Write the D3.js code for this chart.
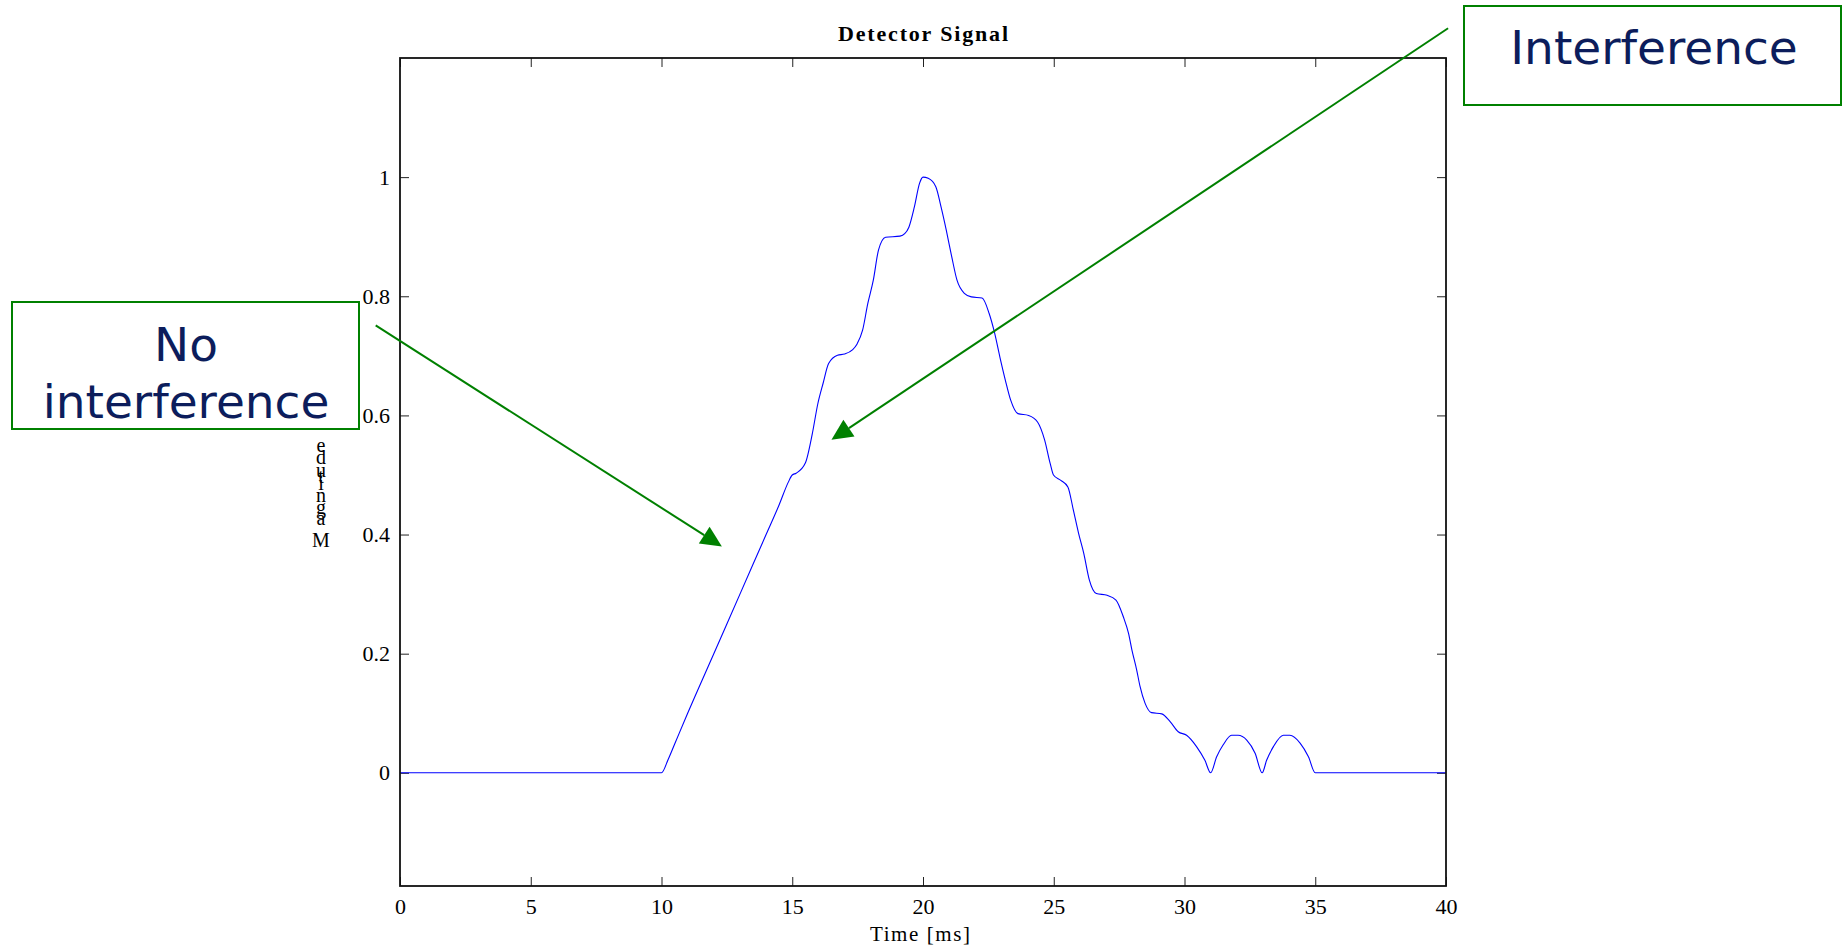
<!DOCTYPE html>
<html><head><meta charset="utf-8">
<script src="https://cdn.jsdelivr.net/npm/d3@7"></script>
<style>body{margin:0;background:#fff;} svg{display:block;background:#fff}</style>
</head><body>
<svg id="chart" width="1843" height="948"></svg>
<script>
// ---- data ----
const timeMs = [0, 10, 10.25, 10.5, 11, 12, 13, 14, 14.5, 14.85, 15, 15.15, 15.5, 15.77, 15.98, 16.18, 16.39, 16.73, 17.0, 17.3, 17.48, 17.69, 17.89, 18.10, 18.30, 18.57, 19.12, 19.3, 19.46, 19.67, 19.87, 20.0, 20.2, 20.49, 20.69, 20.89, 21.10, 21.30, 21.58, 21.85, 22.26, 22.53, 22.74, 22.94, 23.15, 23.35, 23.63, 24.04, 24.38, 24.65, 24.86, 24.99, 25.27, 25.54, 25.75, 25.95, 26.15, 26.36, 26.63, 27.04, 27.38, 27.66, 27.86, 27.99, 28.17, 28.30, 28.49, 28.74, 29.13, 29.45, 29.76, 30.08, 30.46, 30.78, 31.0, 31.23, 31.48, 31.80, 32.05, 32.38, 32.70, 32.97, 33.14, 33.40, 33.78, 34.03, 34.42, 34.74, 35.0, 40];
const magnitude = [0, 0, 0.022, 0.048, 0.1, 0.2, 0.3, 0.4, 0.45, 0.488, 0.5, 0.503, 0.52, 0.57, 0.62, 0.654, 0.687, 0.701, 0.703, 0.71, 0.72, 0.743, 0.788, 0.827, 0.878, 0.899, 0.901, 0.905, 0.916, 0.95, 0.99, 1.0, 0.998, 0.984, 0.95, 0.911, 0.866, 0.827, 0.805, 0.799, 0.797, 0.771, 0.738, 0.698, 0.659, 0.626, 0.603, 0.600, 0.589, 0.559, 0.52, 0.50, 0.491, 0.48, 0.441, 0.402, 0.368, 0.324, 0.301, 0.298, 0.29, 0.262, 0.234, 0.206, 0.173, 0.145, 0.117, 0.101, 0.099, 0.086, 0.069, 0.063, 0.044, 0.021, 0.0, 0.027, 0.047, 0.063, 0.063, 0.055, 0.033, 0.0, 0.021, 0.044, 0.063, 0.063, 0.05, 0.027, 0, 0];
const xTicks = [0, 5, 10, 15, 20, 25, 30, 35, 40];
const xTickLabels = ["0", "5", "10", "15", "20", "25", "30", "35", "40"];
const yTicks = [0, 0.2, 0.4, 0.6, 0.8, 1];
const yTickLabels = ["0", "0.2", "0.4", "0.6", "0.8", "1"];
const xDomain = [0, 40];
const yDomain = [-0.19, 1.2];
const titleText = "Detector Signal";
const xLabelText = "Time [ms]";
const yLabelText = "Magnitude";
const noInterfLines = ["No", "interference"];
const interfLines = ["Interference"];
// arrow endpoints in data units [time, magnitude]
const noInterfArrow = {from: [-0.93, 0.751], to: [12.31, 0.380]};
const interfArrow = {from: [40.08, 1.250], to: [16.50, 0.559]};

// ---- layout ----
const svg = d3.select("#chart");
const plot = {left: 400, right: 1446, top: 58, bottom: 886};
const x = d3.scaleLinear().domain(xDomain).range([plot.left, plot.right]);
const y = d3.scaleLinear().domain(yDomain).range([plot.bottom, plot.top]);
const serif = "'Liberation Serif', 'Times New Roman', serif";
const green = "#008000";
const navy = "#0c1d5c";

svg.append("rect").attr("width", 1843).attr("height", 948).attr("fill", "#fff");

function styleAxis(g) {
  g.select(".domain").remove();
  g.selectAll(".tick line").attr("stroke", "#222").attr("stroke-width", 1);
  g.selectAll(".tick text").attr("font-family", serif).attr("font-size", 22).attr("fill", "#000");
}

svg.append("g").attr("transform", `translate(0,${plot.bottom})`)
  .call(d3.axisBottom(x).tickValues(xTicks).tickSize(-9).tickPadding(12)
    .tickFormat((d, i) => xTickLabels[i]))
  .call(styleAxis);
svg.append("g").attr("transform", `translate(0,${plot.top})`)
  .call(d3.axisTop(x).tickValues(xTicks).tickSize(-9).tickFormat(""))
  .call(styleAxis);
svg.append("g").attr("transform", `translate(${plot.left},0)`)
  .call(d3.axisLeft(y).tickValues(yTicks).tickSize(-9).tickPadding(10)
    .tickFormat((d, i) => yTickLabels[i]))
  .call(styleAxis);
svg.append("g").attr("transform", `translate(${plot.right},0)`)
  .call(d3.axisRight(y).tickValues(yTicks).tickSize(-9).tickFormat(""))
  .call(styleAxis);

// signal line
const pts = timeMs.map((t, i) => [t, magnitude[i]]);
svg.append("path").datum(pts)
  .attr("fill", "none").attr("stroke", "#0000ff").attr("stroke-width", 1.1)
  .attr("d", d3.line().x(d => x(d[0])).y(d => y(d[1])).curve(d3.curveMonotoneX));

// box
svg.append("rect")
  .attr("x", plot.left).attr("y", plot.top)
  .attr("width", plot.right - plot.left).attr("height", plot.bottom - plot.top)
  .attr("fill", "none").attr("stroke", "#111").attr("stroke-width", 1.8);

// title
svg.append("text").attr("x", (plot.left + plot.right) / 2).attr("y", 41)
  .attr("text-anchor", "middle").attr("font-family", serif).attr("font-weight", "bold")
  .attr("font-size", 22).attr("textLength", 170).attr("lengthAdjust", "spacing")
  .text(titleText);

// x label
svg.append("text").attr("x", 920).attr("y", 941)
  .attr("text-anchor", "middle").attr("font-family", serif)
  .attr("font-size", 21).attr("textLength", 100).attr("lengthAdjust", "spacing")
  .text(xLabelText);

// y label: upright glyphs stacked bottom-to-top (as in the reference)
const meas = svg.append("text").attr("font-family", serif).attr("font-size", 20).attr("visibility", "hidden");
const advances = [];
for (let i = 0; i < yLabelText.length; i++) {
  meas.text(yLabelText.slice(0, i));
  advances.push(i === 0 ? 0 : meas.node().getComputedTextLength());
}
meas.remove();
const stretch = 1.22;
yLabelText.split("").forEach((ch, i) => {
  svg.append("text").attr("x", 321).attr("y", 547 - advances[i] * stretch)
    .attr("text-anchor", "middle").attr("font-family", serif).attr("font-size", 20)
    .attr("fill", "#000").text(ch);
});

// annotation boxes
function box(x0, y0, x1, y1, lines, baselines, cx) {
  svg.append("rect").attr("x", x0).attr("y", y0).attr("width", x1 - x0).attr("height", y1 - y0)
    .attr("fill", "#fff").attr("stroke", green).attr("stroke-width", 2);
  lines.forEach((l, i) => {
    svg.append("text").attr("x", cx).attr("y", baselines[i]).attr("text-anchor", "middle")
      .attr("font-family", "'DejaVu Sans', Verdana, sans-serif").attr("font-size", 47)
      .attr("fill", navy).text(l);
  });
}
box(12, 302, 359, 429, noInterfLines, [361, 418], 186);
box(1464, 6, 1841, 105, interfLines, [64], 1654);

// arrows
function arrow(a) {
  const sx = x(a.from[0]), sy = y(a.from[1]), tx = x(a.to[0]), ty = y(a.to[1]);
  const L = Math.hypot(tx - sx, ty - sy), ux = (tx - sx) / L, uy = (ty - sy) / L;
  const hl = 21, hw = 20;
  const bx = tx - ux * hl, by = ty - uy * hl;
  svg.append("line").attr("x1", sx).attr("y1", sy).attr("x2", bx).attr("y2", by)
    .attr("stroke", green).attr("stroke-width", 2);
  svg.append("polygon")
    .attr("points", [[tx, ty], [bx - uy * hw / 2, by + ux * hw / 2], [bx + uy * hw / 2, by - ux * hw / 2]].map(p => p.join(",")).join(" "))
    .attr("fill", green);
}
arrow(noInterfArrow);
arrow(interfArrow);
</script>
</body></html>
